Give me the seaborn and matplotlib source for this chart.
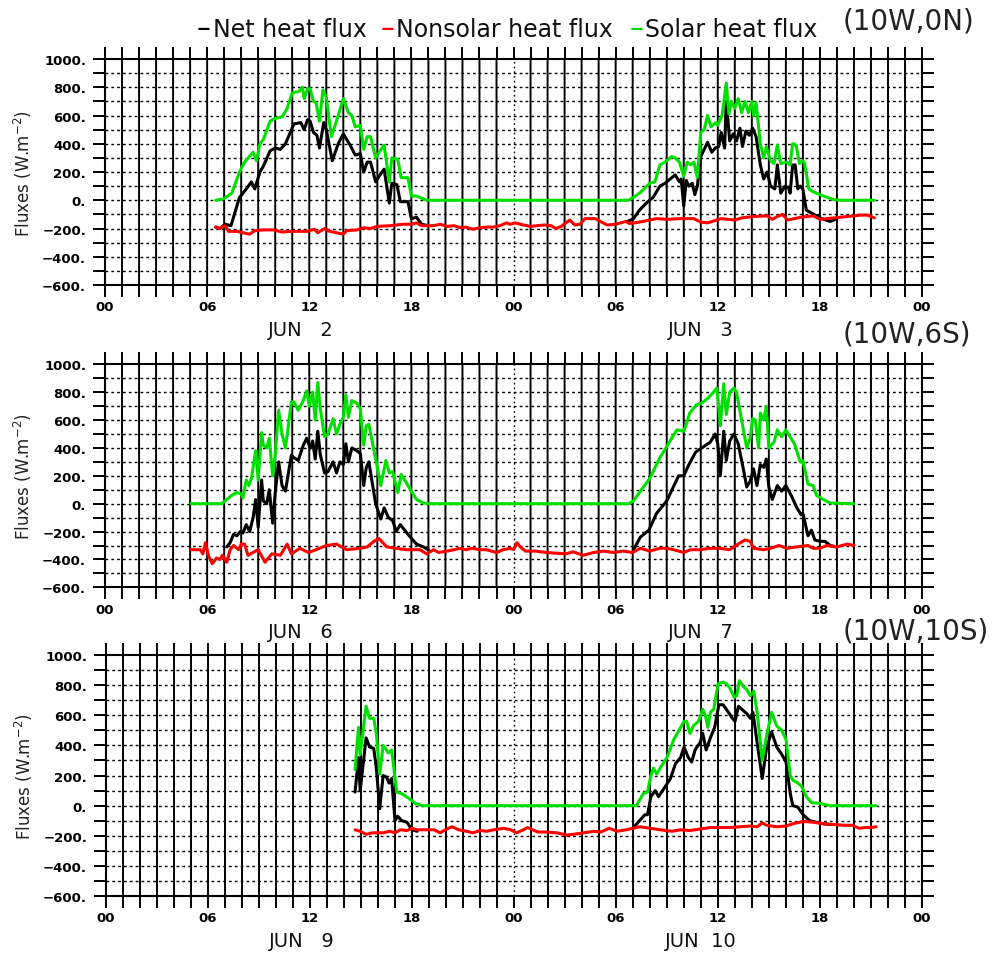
"""
Surface heat flux time series at three buoy sites (GrADS-style panels).
"""

import pandas as pd
import matplotlib
matplotlib.use("Agg")
import matplotlib.pyplot as plt
import seaborn as sns

# ---------------------------------------------------------------------------
# data: (hour since 00Z of the first day, W m-2)
# ---------------------------------------------------------------------------

# (10W,0N)  JUN 2 - JUN 3
n0_net_a = [(6.5, -190), (6.75, -200), (7.05, -170), (7.4, -180), (7.6, -100), (7.9, 20), (8.3, 80),
            (8.6, 130), (8.8, 80), (9.1, 200), (9.3, 240), (9.7, 350), (10.0, 370), (10.3, 360),
            (10.6, 400), (11.1, 540), (11.5, 550), (11.7, 500), (11.9, 570), (12.05, 560), (12.25, 480),
            (12.45, 460), (12.6, 370), (12.85, 550), (13.0, 500), (13.35, 280), (13.7, 400), (14.0, 470),
            (14.4, 390), (14.7, 320), (15.0, 330), (15.2, 200), (15.4, 270), (15.6, 270), (15.9, 130),
            (16.1, 170), (16.4, 220), (16.7, -20), (16.85, 120), (17.15, 110), (17.35, -10), (17.8, -10),
            (18.0, -130), (18.3, -120), (18.6, -170), (19.0, -180)]
n0_net_b = [(30.7, -150), (31.05, -130), (31.4, -70), (31.8, -20), (32.2, 20), (32.6, 100), (32.9, 120),
            (33.2, 150), (33.5, 180), (33.75, 130), (33.85, 150), (34.0, -40), (34.15, 140), (34.3, 100),
            (34.5, 120), (34.65, 40), (34.8, 100), (35.0, 310), (35.2, 360), (35.4, 410), (35.65, 340),
            (35.85, 370), (36.05, 380), (36.2, 480), (36.4, 370), (36.5, 700), (36.7, 420), (36.9, 470),
            (37.1, 420), (37.3, 510), (37.45, 380), (37.65, 490), (37.85, 460), (38.05, 510), (38.25, 450),
            (38.5, 250), (38.7, 150), (38.9, 200), (39.1, 100), (39.35, 80), (39.5, 250), (39.7, 50),
            (39.95, 100), (40.15, 90), (40.25, 50), (40.4, 250), (40.55, 250), (40.7, 80), (40.85, 100),
            (41.0, 80), (41.2, -70), (41.5, -90), (41.8, -110), (42.1, -130), (42.6, -150), (43.0, -130)]
n0_nonsolar = [(6.5, -190), (6.75, -200), (7.05, -180), (7.25, -220), (7.75, -220), (8.1, -230), (8.5, -240),
               (8.8, -215), (9.3, -210), (9.9, -210), (10.4, -225), (10.9, -220), (11.9, -220), (12.3, -205),
               (12.5, -230), (12.9, -200), (13.2, -220), (13.6, -230), (14.0, -240), (14.2, -215),
               (14.8, -210), (15.2, -195), (15.6, -200), (16.0, -185), (16.75, -180), (17.5, -170),
               (18.0, -170), (18.3, -160), (18.6, -180), (19.3, -180), (19.7, -170), (20.1, -185),
               (20.5, -180), (20.9, -195), (21.2, -190), (21.6, -205), (22.0, -195), (22.4, -190),
               (22.8, -190), (23.2, -180), (23.6, -160), (23.8, -170), (24.1, -160), (24.4, -170),
               (25.0, -185), (25.4, -180), (25.8, -175), (26.2, -180), (26.5, -200), (26.8, -185),
               (27.3, -140), (27.6, -175), (27.9, -170), (28.2, -130), (28.8, -130), (29.1, -150),
               (29.5, -175), (30.0, -170), (30.3, -160), (30.6, -150), (30.8, -165), (31.1, -160),
               (31.6, -150), (32.4, -130), (33.0, -135), (33.8, -130), (34.6, -130), (35.0, -155),
               (35.4, -160), (35.8, -145), (36.2, -130), (37.0, -140), (37.4, -125), (38.1, -115),
               (38.9, -110), (39.2, -135), (39.5, -115), (39.8, -100), (40.1, -140), (40.5, -130),
               (40.9, -120), (41.6, -110), (42.0, -135), (42.8, -125), (43.6, -115), (44.4, -105),
               (44.8, -105), (45.2, -125)]
n0_solar = [(6.5, 0), (6.96, 10), (7.45, 50), (7.9, 200), (8.2, 270), (8.7, 340), (8.9, 280), (9.1, 400),
            (9.3, 430), (9.7, 560), (10.0, 580), (10.4, 590), (10.7, 650), (11.0, 760), (11.4, 770),
            (11.6, 800), (11.7, 720), (11.9, 790), (12.05, 790), (12.25, 700), (12.4, 690), (12.6, 560),
            (12.8, 780), (13.0, 730), (13.3, 450), (13.7, 600), (14.0, 720), (14.3, 620), (14.5, 600),
            (14.7, 520), (15.0, 530), (15.2, 360), (15.4, 450), (15.6, 450), (15.9, 300), (16.1, 340),
            (16.4, 390), (16.7, 130), (16.85, 300), (17.2, 290), (17.4, 160), (17.8, 160), (18.0, 30),
            (18.3, 30), (18.9, 0), (30.75, 0), (31.05, 20), (31.5, 60), (32.0, 120), (32.3, 130),
            (32.6, 250), (32.9, 270), (33.3, 310), (33.5, 300), (33.75, 270), (34.0, 170), (34.2, 270),
            (34.4, 250), (34.6, 270), (34.8, 160), (35.0, 480), (35.2, 500), (35.4, 600), (35.6, 520),
            (35.9, 550), (36.0, 530), (36.25, 600), (36.5, 830), (36.65, 610), (36.8, 700), (37.0, 650),
            (37.2, 720), (37.4, 620), (37.6, 700), (37.8, 620), (38.0, 700), (38.1, 600), (38.25, 690),
            (38.5, 400), (38.7, 300), (38.85, 380), (39.1, 280), (39.3, 260), (39.5, 390), (39.7, 260),
            (40.05, 270), (40.25, 250), (40.4, 400), (40.6, 390), (40.8, 260), (41.0, 280), (41.1, 260),
            (41.35, 80), (41.6, 60), (42.2, 30), (42.8, 5), (43.2, 0), (45.2, 0)]

# (10W,6S)  JUN 6 - JUN 7
s6_net_a = [(7.15, -310), (7.35, -280), (7.55, -220), (7.75, -230), (7.95, -200), (8.1, -210), (8.3, -150),
            (8.5, -200), (8.7, -100), (8.85, 30), (9.0, -170), (9.2, 170), (9.3, 20), (9.5, 0), (9.65, 100),
            (9.85, -140), (10.0, 80), (10.2, 300), (10.4, 130), (10.6, 90), (10.95, 350), (11.1, 330),
            (11.35, 310), (11.65, 420), (11.85, 470), (12.05, 400), (12.2, 450), (12.35, 320), (12.5, 520),
            (12.65, 350), (12.9, 220), (13.1, 230), (13.4, 300), (13.6, 220), (13.8, 300), (14.0, 280),
            (14.15, 430), (14.3, 300), (14.5, 400), (14.8, 380), (15.0, 360), (15.2, 130), (15.35, 260),
            (15.5, 300), (15.9, 0), (16.2, -110), (16.4, -30), (16.65, -100), (16.9, -120), (17.1, -200),
            (17.35, -150), (17.8, -220), (18.3, -290), (18.7, -310), (19.0, -330)]
s6_net_b = [(31.05, -330), (31.45, -240), (31.95, -190), (32.4, -70), (33.0, 20), (33.7, 200), (34.0, 200),
            (34.3, 280), (34.7, 370), (35.05, 400), (35.55, 440), (35.85, 500), (36.0, 430), (36.15, 200),
            (36.35, 520), (36.5, 310), (36.7, 450), (36.95, 500), (37.2, 430), (37.5, 250), (37.7, 120),
            (37.9, 160), (38.1, 250), (38.3, 130), (38.5, 280), (38.7, 260), (38.85, 320), (39.0, 120),
            (39.2, 30), (39.5, 130), (39.75, 90), (40.0, 130), (40.35, 50), (40.65, -30), (40.9, -80),
            (41.0, -70), (41.3, -230), (41.5, -190), (41.7, -260), (42.0, -270), (42.3, -270),
            (42.6, -300), (43.0, -310)]
s6_nonsolar = [(5.05, -330), (5.6, -330), (5.75, -360), (5.9, -280), (6.1, -380), (6.3, -430), (6.55, -390),
               (6.75, -400), (6.9, -370), (7.15, -420), (7.35, -330), (7.55, -300), (7.85, -330), (8.0, -290),
               (8.2, -290), (8.4, -370), (9.0, -330), (9.4, -420), (9.8, -360), (10.3, -370), (10.7, -290),
               (10.95, -360), (11.45, -320), (11.95, -350), (12.4, -330), (13.0, -300), (13.6, -290),
               (14.2, -330), (15.0, -320), (15.4, -310), (15.8, -270), (16.1, -250), (16.55, -310),
               (17.1, -320), (17.7, -330), (18.5, -330), (18.9, -360), (19.3, -330), (19.6, -350),
               (20.1, -340), (20.5, -330), (20.85, -320), (21.2, -330), (21.6, -320), (22.0, -330),
               (22.4, -330), (23.0, -350), (23.4, -330), (23.8, -320), (24.0, -330), (24.2, -280),
               (24.4, -310), (24.7, -340), (25.3, -340), (25.9, -350), (26.5, -355), (27.1, -360),
               (27.5, -345), (28.1, -370), (28.7, -350), (29.3, -340), (29.85, -350), (30.45, -340),
               (31.0, -350), (31.45, -320), (32.0, -340), (32.6, -320), (33.0, -320), (33.4, -330),
               (34.0, -350), (34.4, -330), (35.0, -330), (35.5, -320), (36.1, -320), (36.7, -330),
               (37.2, -290), (37.6, -260), (37.9, -270), (38.1, -320), (38.7, -330), (39.1, -320),
               (39.6, -300), (40.05, -320), (40.65, -310), (41.3, -300), (41.6, -320), (42.0, -320),
               (42.4, -300), (43.0, -310), (43.6, -290), (44.0, -300)]
s6_solar = [(5.05, 0), (6.85, 0), (7.15, 30), (7.45, 60), (7.75, 80), (8.0, 70), (8.1, 40), (8.3, 170),
            (8.45, 130), (8.6, 180), (8.85, 380), (9.0, 170), (9.2, 510), (9.3, 420), (9.5, 400), (9.65, 470),
            (9.85, 200), (10.0, 350), (10.2, 670), (10.4, 500), (10.6, 400), (10.95, 730), (11.1, 730),
            (11.35, 670), (11.65, 740), (11.85, 810), (12.0, 700), (12.2, 800), (12.35, 600), (12.5, 870),
            (12.65, 680), (12.9, 480), (13.1, 500), (13.4, 610), (13.6, 500), (13.8, 570), (14.0, 620),
            (14.15, 780), (14.3, 620), (14.5, 740), (14.8, 720), (15.0, 680), (15.2, 420), (15.35, 560),
            (15.5, 570), (15.9, 320), (16.2, 130), (16.5, 310), (16.7, 220), (16.9, 230), (17.2, 80),
            (17.4, 210), (17.8, 130), (18.3, 30), (18.7, 5), (19.0, 0), (30.75, 0), (31.05, 20),
            (31.45, 90), (32.0, 180), (32.6, 330), (33.0, 410), (33.6, 530), (34.0, 520), (34.2, 590),
            (34.35, 650), (34.75, 710), (35.05, 720), (35.45, 760), (35.75, 800), (35.95, 830),
            (36.15, 560), (36.35, 860), (36.5, 640), (36.7, 800), (36.95, 830), (37.1, 800), (37.4, 600),
            (37.7, 400), (37.9, 470), (38.05, 610), (38.2, 600), (38.4, 400), (38.5, 650), (38.7, 600),
            (38.85, 700), (39.0, 400), (39.3, 440), (39.5, 530), (39.75, 480), (40.0, 530), (40.25, 480),
            (40.5, 430), (40.85, 300), (41.0, 310), (41.3, 140), (41.6, 130), (41.8, 60), (42.2, 30),
            (42.6, 5), (44.0, 0)]

# (10W,10S)  JUN 9 - JUN 10
s10_net_a = [(14.65, 90), (14.85, 320), (14.95, 100), (15.3, 450), (15.5, 390), (15.75, 380), (15.9, 250),
             (16.1, -20), (16.3, 200), (16.5, 190), (16.65, 150), (16.8, 180), (17.0, -100), (17.15, -70),
             (17.4, -100), (17.7, -110), (18.0, -160), (18.3, -170)]
s10_net_b = [(31.0, -150), (31.3, -110), (31.7, -60), (31.85, -60), (32.05, 60), (32.3, 100), (32.5, 60),
             (32.8, 110), (33.2, 180), (33.5, 280), (33.8, 320), (34.0, 390), (34.25, 320), (34.45, 290),
             (34.65, 370), (34.95, 420), (35.1, 480), (35.3, 370), (35.55, 450), (35.8, 520), (36.05, 670),
             (36.3, 670), (36.55, 630), (36.85, 580), (37.0, 560), (37.2, 660), (37.4, 640), (37.7, 610),
             (37.9, 580), (38.05, 620), (38.25, 460), (38.6, 180), (38.85, 380), (39.15, 490), (39.45, 390),
             (39.75, 340), (40.0, 290), (40.25, 80), (40.4, 0), (40.7, -10), (41.0, -60), (41.4, -100),
             (41.8, -110), (42.2, -120), (42.6, -125)]
s10_nonsolar = [(14.65, -160), (14.95, -170), (15.3, -190), (15.7, -180), (16.3, -180), (16.7, -170),
                (17.0, -180), (17.3, -160), (17.7, -165), (18.0, -150), (18.3, -160), (18.9, -160),
                (19.3, -160), (19.65, -180), (20.05, -155), (20.35, -140), (20.75, -160), (21.2, -170),
                (21.6, -180), (22.0, -165), (22.4, -170), (22.8, -160), (23.4, -150), (23.8, -160),
                (24.15, -180), (24.55, -160), (24.8, -145), (25.4, -175), (25.9, -175), (26.5, -180),
                (27.1, -195), (27.5, -190), (28.1, -180), (28.7, -170), (29.1, -175), (29.6, -150),
                (30.05, -170), (30.6, -160), (31.0, -150), (31.4, -140), (32.0, -150), (32.6, -160),
                (33.3, -170), (33.8, -160), (34.35, -165), (34.95, -155), (35.55, -145), (36.1, -145),
                (36.7, -145), (37.3, -140), (37.9, -135), (38.3, -140), (38.6, -115), (38.85, -130),
                (39.45, -140), (40.0, -135), (40.4, -120), (41.0, -105), (41.6, -110), (42.2, -120),
                (42.8, -125), (43.35, -130), (43.9, -130), (44.3, -150), (44.7, -145), (45.0, -145),
                (45.3, -140)]
s10_solar = [(14.65, 240), (14.85, 520), (14.95, 340), (15.3, 660), (15.5, 580), (15.75, 580), (15.9, 480),
             (16.1, 210), (16.3, 400), (16.45, 380), (16.6, 350), (16.8, 370), (17.1, 90), (17.4, 80),
             (17.8, 50), (18.2, 15), (18.6, 0), (31.2, 0), (31.3, 20), (31.6, 80), (31.85, 90), (32.05, 200),
             (32.2, 250), (32.4, 210), (32.7, 270), (33.0, 320), (33.4, 440), (33.7, 500), (34.0, 560),
             (34.15, 560), (34.35, 480), (34.55, 530), (34.85, 560), (35.1, 640), (35.25, 600), (35.4, 520),
             (35.55, 620), (35.75, 640), (36.0, 810), (36.3, 820), (36.5, 810), (36.7, 780), (36.95, 720),
             (37.1, 730), (37.25, 830), (37.5, 790), (37.7, 770), (37.9, 730), (38.1, 760), (38.3, 620),
             (38.6, 300), (38.85, 460), (39.15, 620), (39.45, 530), (39.75, 500), (40.0, 440), (40.25, 200),
             (40.4, 170), (40.7, 150), (40.9, 130), (41.2, 60), (41.5, 20), (42.0, 15), (42.6, 0), (45.3, 0)]

sites = ["(10W,0N)", "(10W,6S)", "(10W,10S)"]
dates = [("JUN   2", "JUN   3"), ("JUN   6", "JUN   7"), ("JUN   9", "JUN  10")]
hour_labels = ["00", "06", "12", "18", "00", "06", "12", "18", "00"]
series_names = ["Net heat flux", "Nonsolar heat flux", "Solar heat flux"]

NET_COLOR = "#000000"
NONSOLAR_COLOR = "#ff0000"
SOLAR_COLOR = "#00e000"

sns.set_style("white")
plt.rcParams["font.family"] = ["DejaVu Sans"]


def to_frame(*segments):
    parts = []
    for i, seg in enumerate(segments):
        parts.append(pd.DataFrame(seg, columns=["hour", "flux"]).assign(seg=i))
    return pd.concat(parts, ignore_index=True)


def style_axes(ax):
    ax.set_xlim(0, 48)
    ax.set_ylim(-600, 1000)
    hours = list(range(0, 49))
    ax.set_xticks(hours)
    ax.set_xticklabels([hour_labels[h // 6] if h % 6 == 0 else "" for h in hours],
                       fontsize=9.5, fontweight="bold")
    yt = list(range(-600, 1001, 100))
    ax.set_yticks(yt)
    ax.set_yticklabels([(f"{v}.".replace("-", "\u2212") if v % 200 == 0 else "") for v in yt],
                       fontsize=9.5, fontweight="bold")
    ax.tick_params(axis="x", which="major", direction="out", length=8.6, width=1.4,
                   top=True, bottom=True, labeltop=False, pad=2.5, colors="black")
    ax.tick_params(axis="y", which="major", direction="out", length=8.6, width=1.4,
                   left=True, right=True, labelright=False, pad=5, colors="black")
    ax.grid(False)
    # hourly vertical lines (solid), dotted one at midnight
    for h in hours[1:-1]:
        if h == 24:
            ax.axvline(h, color="black", lw=1.0, ls=(0, (1.2, 2.2)), zorder=1.5)
        else:
            ax.plot([h, h], [-600, 1000], color="black", lw=1.4, solid_capstyle="butt",
                    snap=False, zorder=1.5)
    # dotted horizontal lines every 100
    for v in yt[1:-1]:
        ax.axhline(v, color="black", lw=1.0, ls=(0, (2.0, 2.2)), zorder=1.4)
    for sp in ax.spines.values():
        sp.set_visible(True)
        sp.set_color("black")
        sp.set_linewidth(1.5)
    ax.set_xlabel("")
    ax.set_ylabel("")


def draw_panel(ax, net_a, net_b, nonsolar, solar, site_dates):
    sns.lineplot(data=to_frame(net_a, net_b), x="hour", y="flux", units="seg", estimator=None,
                 sort=False, color=NET_COLOR, lw=2.2, ax=ax, zorder=3)
    sns.lineplot(data=to_frame(nonsolar), x="hour", y="flux", units="seg", estimator=None,
                 sort=False, color=NONSOLAR_COLOR, lw=2.2, ax=ax, zorder=4)
    sns.lineplot(data=to_frame(solar), x="hour", y="flux", units="seg", estimator=None,
                 sort=False, color=SOLAR_COLOR, lw=2.2, ax=ax, zorder=5)
    style_axes(ax)
    for hr, txt in zip([11.5, 35.0], site_dates):
        ax.annotate(txt, xy=(hr, 0), xycoords=("data", "axes fraction"),
                    xytext=(0, -31.7), textcoords="offset points",
                    ha="center", va="center", fontsize=14, color="#111111")
    ax.text(-0.1004, 0.5, "Fluxes (W.m$^{-2}$)", transform=ax.transAxes, rotation=90,
            ha="center", va="center", fontsize=12, color="#222222")


fig = plt.figure(figsize=(10.02, 9.54), dpi=100)
ax1 = fig.add_axes([0.1048, 0.7002, 0.8154, 0.2369])
ax2 = fig.add_axes([0.1048, 0.3833, 0.8154, 0.2338])
ax3 = fig.add_axes([0.1058, 0.0597, 0.8144, 0.2526])

draw_panel(ax1, n0_net_a, n0_net_b, n0_nonsolar, n0_solar, dates[0])
draw_panel(ax2, s6_net_a, s6_net_b, s6_nonsolar, s6_solar, dates[1])
draw_panel(ax3, s10_net_a, s10_net_b, s10_nonsolar, s10_solar, dates[2])

# station labels
for y, site in zip([0.977, 0.649, 0.338], sites):
    fig.text(0.841, y, site, ha="left", va="center", fontsize=20, color="#222222")

# legend line across the top
legend_y = 0.9612
for x_dash, color, name in zip([0.1966, 0.3802, 0.6287],
                               [NET_COLOR, NONSOLAR_COLOR, SOLAR_COLOR], series_names):
    fig.text(x_dash, legend_y, "\u2013", color=color, fontsize=20, ha="left", va="baseline")
    fig.text(x_dash + 0.0155, legend_y, name, color="#111111", fontsize=17,
             ha="left", va="baseline")

plt.savefig("out.png", dpi=100)
plt.close()
